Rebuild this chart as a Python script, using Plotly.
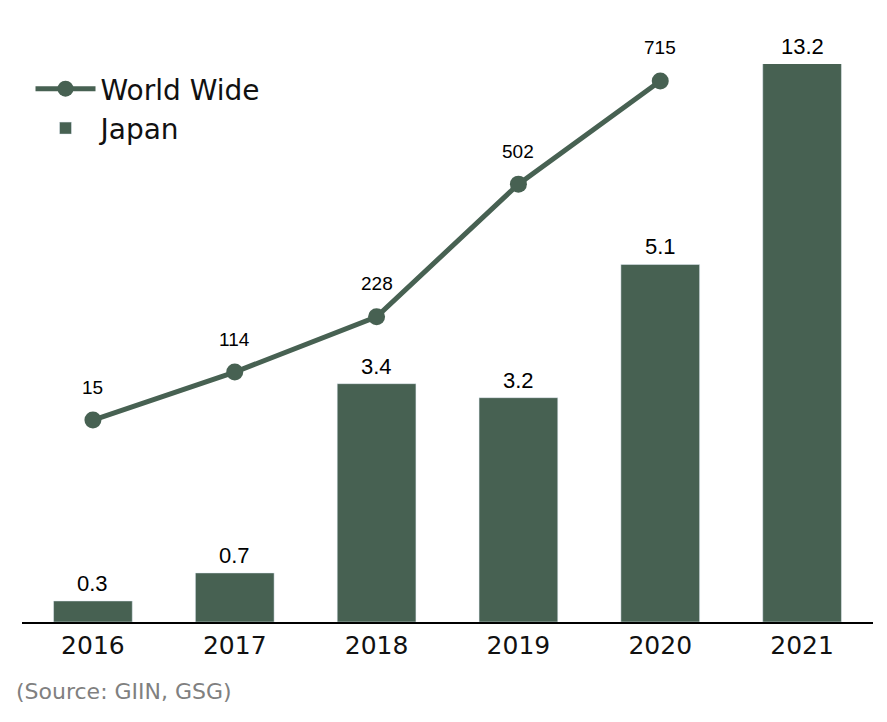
import plotly.graph_objects as go

years = ["2016", "2017", "2018", "2019", "2020", "2021"]
japan = [0.3, 0.7, 3.4, 3.2, 5.1, 13.2]
ww_years = ["2016", "2017", "2018", "2019", "2020"]
world_wide = [15, 114, 228, 502, 715]
source_text = "(Source: GIIN, GSG)"

GREEN = "#476152"
Y1_MAX = 7.96
Y2_RANGE = [-402, 750]
TICK_FONT = "DejaVu Sans, sans-serif"
NUM_FONT = "Liberation Sans, Arial, sans-serif"

fig = go.Figure()
fig.add_trace(go.Bar(
    x=years, y=japan, name="Japan", marker_color=GREEN,
    width=0.555, yaxis="y", showlegend=True,
))
fig.add_trace(go.Scatter(
    x=ww_years, y=world_wide, name="World Wide", mode="lines+markers",
    line=dict(color=GREEN, width=5), marker=dict(color=GREEN, size=17),
    yaxis="y2", cliponaxis=False,
))

annotations = []
for i, v in enumerate(japan):
    if v <= Y1_MAX:
        annotations.append(dict(x=i, y=v, xref="x", yref="y", text=f"{v}",
                                showarrow=False, yanchor="bottom", yshift=3,
                                font=dict(family=NUM_FONT, size=22, color="#000")))
    else:
        annotations.append(dict(x=i, y=1, xref="x", yref="paper", text=f"{v}",
                                showarrow=False, yanchor="bottom", yshift=3,
                                font=dict(family=NUM_FONT, size=22, color="#000")))
for i, v in enumerate(world_wide):
    annotations.append(dict(x=i, y=v, xref="x", yref="y2", text=f"{v}",
                            showarrow=False, yanchor="middle", yshift=33,
                            font=dict(family=NUM_FONT, size=19, color="#000")))
annotations.append(dict(x=-0.009, y=-0.125, xref="paper", yref="paper",
                        text=source_text, showarrow=False, xanchor="left",
                        yanchor="middle",
                        font=dict(family=TICK_FONT, size=22, color="#808080")))

fig.update_layout(
    width=879, height=714,
    margin=dict(l=14, r=14, t=56, b=100),
    paper_bgcolor="white", plot_bgcolor="white",
    bargap=0.445,
    xaxis=dict(type="category", showline=True, linecolor="black", linewidth=2,
               showgrid=False, ticks="",
               tickfont=dict(family=TICK_FONT, size=25, color="#111"),
               range=[-0.5, 5.5]),
    yaxis=dict(range=[0, Y1_MAX], showticklabels=False, showgrid=False,
               zeroline=False, showline=False),
    yaxis2=dict(range=Y2_RANGE, overlaying="y", showticklabels=False,
                showgrid=False, zeroline=False, showline=False),
    legend=dict(x=0.01, y=1.0, xanchor="left", yanchor="top",
                font=dict(family=TICK_FONT, size=28, color="#111"),
                bgcolor="rgba(0,0,0,0)", itemwidth=60, traceorder="reversed"),
    annotations=annotations,
    showlegend=True,
)

fig.write_html("out.html")
